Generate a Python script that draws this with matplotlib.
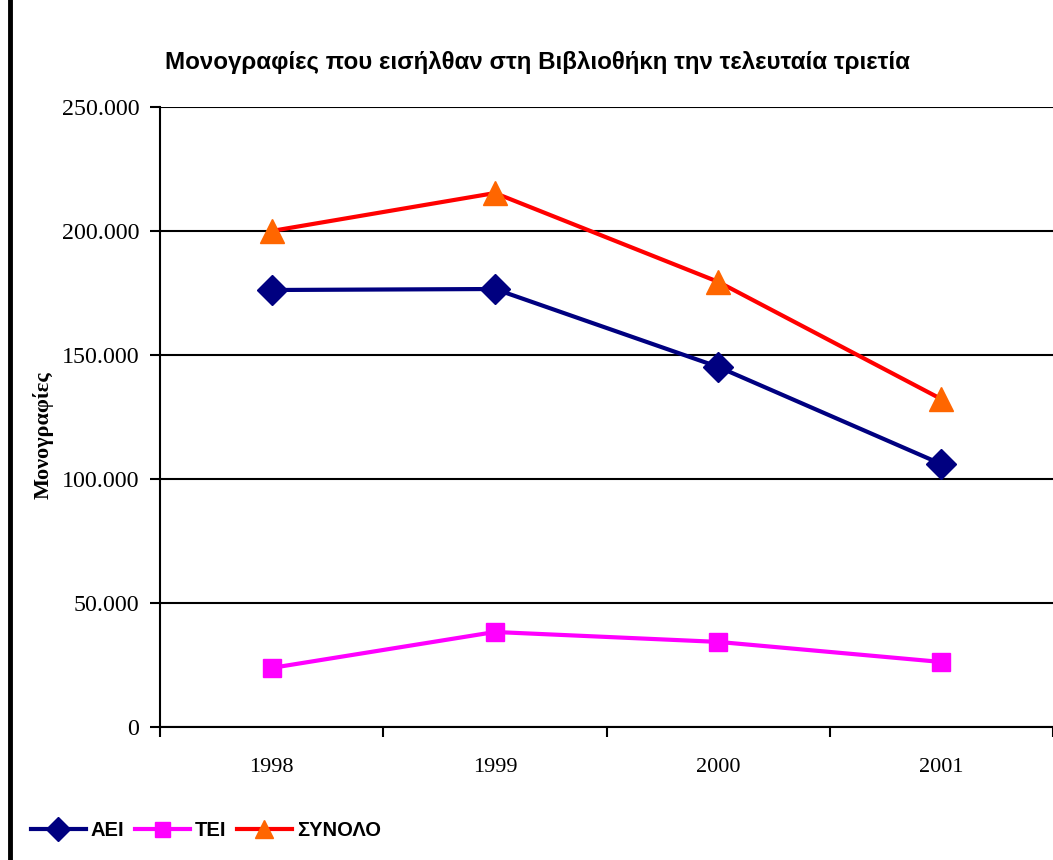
import matplotlib.pyplot as plt
from matplotlib.lines import Line2D

years = ['1998', '1999', '2000', '2001']
aei = [176200, 176600, 145200, 106000]
tei = [23800, 38300, 34300, 26200]
synolo = [200000, 215300, 179500, 132200]
yticks = [0, 50000, 100000, 150000, 200000, 250000]
ylabels = ['0', '50.000', '100.000', '150.000', '200.000', '250.000']

fig = plt.figure(figsize=(10.53, 8.6), dpi=100)
ax = fig.add_axes([0.152, 0.1547, 0.848, 0.7209])

x = range(len(years))
ax.plot(x, aei, color='#000080', linewidth=3, marker='D', ms=15, mfc='#000080', mec='#000080', label='ΑΕΙ', zorder=3)
ax.plot(x, tei, color='#FF00FF', linewidth=3, marker='s', ms=13.5, mfc='#FF00FF', mec='#FF00FF', label='TEI', zorder=3)
ax.plot(x, synolo, color='#FF0000', linewidth=3, marker='^', ms=17, mfc='#FF6600', mec='#FF6600', label='ΣΥΝΟΛΟ', zorder=3)

ax.set_xlim(-0.5, 3.5)
ax.set_ylim(0, 250000)
ax.set_yticks(yticks)
ax.set_yticklabels(ylabels, fontdict={'family': 'Liberation Serif', 'size': 17.3})
ax.set_xticks([-0.5, 0.5, 1.5, 2.5, 3.5])
ax.set_xticklabels([])
ax.set_xticks(list(x), minor=True)
ax.set_xticklabels(years, minor=True, fontdict={'family': 'Liberation Serif', 'size': 16})
ax.tick_params(axis='x', which='minor', length=0, pad=22)
ax.tick_params(axis='x', which='major', length=7, width=1.5, direction='out')
ax.tick_params(axis='y', length=7, width=1.5, direction='out', pad=8)
ax.yaxis.grid(True, color='black', linewidth=1.5)
for s in ['top', 'right']:
    ax.spines[s].set_visible(False)
for s in ['left', 'bottom']:
    ax.spines[s].set_linewidth(1.5)

ax.set_ylabel('Μονογραφίες', fontdict={'family': 'Liberation Serif', 'size': 16, 'weight': 'bold'})
ax.yaxis.set_label_coords(-0.119, 0.47)
fig.text(0.51, (860 - 68.5) / 860, 'Μονογραφίες που εισήλθαν στη Βιβλιοθήκη την τελευταία τριετία',
         ha='center', va='baseline', family='Liberation Sans', size=17.4, weight='bold')

fig.add_artist(Line2D([10 / 1053, 10 / 1053], [0, 1], transform=fig.transFigure, color='black', linewidth=3.5))

fig.legend(loc='center left', bbox_to_anchor=(0.029, (860 - 831) / 860), ncol=3, frameon=False,
           prop={'family': 'Liberation Sans', 'size': 14.5, 'weight': 'bold'},
           handlelength=2.75, handletextpad=0.25, columnspacing=0.5, markerscale=0.8,
           borderpad=0, borderaxespad=0)

plt.savefig('out.png', dpi=100)
plt.close()
